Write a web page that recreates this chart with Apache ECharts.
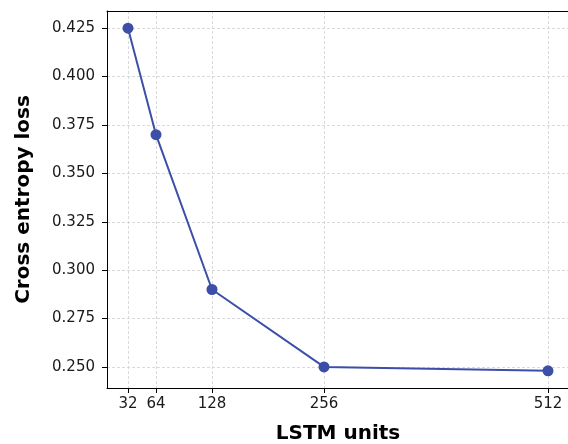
<!DOCTYPE html>
<html><head><meta charset="utf-8">
<script src="https://cdn.jsdelivr.net/npm/echarts@6/dist/echarts.min.js"></script>
<style>html,body{margin:0;padding:0;background:#fff;overflow:hidden}#c{width:568px;height:444px}</style>
</head><body><div id="c"></div>
<script>
const units = [32, 64, 128, 256, 512];
const loss = [0.425, 0.370, 0.290, 0.250, 0.248];
const yTicks = [0.250, 0.275, 0.300, 0.325, 0.350, 0.375, 0.400, 0.425];
const xTicks = [32, 64, 128, 256, 512];

const FONT = 'DejaVu Sans';
const COLOR = '#3C4FA8';
const chart = echarts.init(document.getElementById('c'), null, {renderer: 'canvas'});
const gridLine = {color: '#d0d0d0', type: [3, 2], width: 0.8};
chart.setOption({
  animation: false,
  grid: {left: 107, top: 11, width: 462, height: 377, show: false, outerBoundsMode: 'none', containLabel: false},
  xAxis: [{
    type: 'value', min: 8, max: 536,
    name: 'LSTM units', nameLocation: 'middle', nameGap: 36,
    nameTextStyle: {fontFamily: FONT, fontWeight: 'bold', fontSize: 20, color: '#000'},
    axisLine: {show: true, onZero: false, lineStyle: {color: '#000', width: 1}},
    axisTick: {show: true, length: 5, customValues: xTicks, lineStyle: {color: '#000'}},
    axisLabel: {customValues: xTicks, fontFamily: FONT, fontSize: 15, color: '#1a1a1a', margin: 9},
    splitLine: {show: true, lineStyle: gridLine}
  }, {
    type: 'value', min: 8, max: 536, position: 'top',
    axisLine: {show: true, onZero: false, lineStyle: {color: '#000', width: 1}},
    axisTick: {show: false}, axisLabel: {show: false}, splitLine: {show: false}
  }],
  yAxis: {
    type: 'value', min: 0.2391, max: 0.4339,
    name: 'Cross entropy loss', nameLocation: 'middle', nameGap: 73,
    nameTextStyle: {fontFamily: FONT, fontWeight: 'bold', fontSize: 20, color: '#000'},
    axisLine: {show: true, onZero: false, lineStyle: {color: '#000', width: 1}},
    axisTick: {show: true, length: 5, customValues: yTicks, lineStyle: {color: '#000'}},
    axisLabel: {customValues: yTicks, fontFamily: FONT, fontSize: 15, color: '#1a1a1a', margin: 12,
      formatter: v => v.toFixed(3)},
    splitLine: {show: true, lineStyle: gridLine}
  },
  series: [
    {
      type: 'line', data: units.map((u, i) => [u, loss[i]]),
      symbol: 'circle', symbolSize: 11, z: 5,
      lineStyle: {color: COLOR, width: 2},
      itemStyle: {color: COLOR}
    }
  ]
});
</script></body></html>
